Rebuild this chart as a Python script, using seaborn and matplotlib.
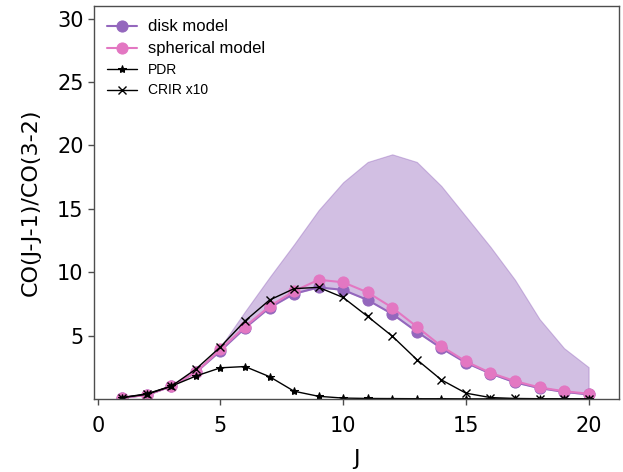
import numpy as np
import matplotlib
matplotlib.use("Agg")
import matplotlib.pyplot as plt
import seaborn as sns

J = list(range(1, 21))

disk = [0.1, 0.3, 1.0, 2.1, 3.8, 5.6, 7.2, 8.3, 8.8, 8.6,
        7.8, 6.7, 5.3, 4.0, 2.85, 2.0, 1.3, 0.85, 0.55, 0.35]
spherical = [0.1, 0.3, 1.0, 2.1, 3.9, 5.7, 7.3, 8.5, 9.4, 9.2,
             8.4, 7.2, 5.7, 4.15, 2.95, 2.05, 1.4, 0.9, 0.6, 0.4]
band_upper = [0.1, 0.35, 1.0, 2.2, 4.1, 6.9, 9.6, 12.2, 14.9, 17.1,
              18.7, 19.3, 18.7, 16.8, 14.4, 12.0, 9.4, 6.3, 4.0, 2.5]
pdr = [0.1, 0.4, 1.0, 1.8, 2.45, 2.55, 1.75, 0.6, 0.2, 0.06,
       0.03, 0.02, 0.01, 0.01, 0.0, 0.0, 0.0, 0.0, 0.0, 0.0]
crir = [0.1, 0.35, 1.0, 2.35, 4.1, 6.15, 7.8, 8.7, 8.8, 8.0,
        6.5, 4.95, 3.1, 1.5, 0.45, 0.1, 0.03, 0.01, 0.0, 0.0]

sns.set_style("ticks")
plt.rcParams['font.family'] = ['DejaVu Sans']
plt.rcParams['text.color'] = 'black'
plt.rcParams['axes.labelcolor'] = 'black'
plt.rcParams['xtick.color'] = 'black'
plt.rcParams['ytick.color'] = 'black'

fig = plt.figure(figsize=(6.23, 4.72), dpi=100)
ax = fig.add_axes([0.151, 0.155, 0.843, 0.832])

purple = '#9467bd'
pink = '#e377c2'

# shaded range of the disk model
ax.fill_between(J, disk, band_upper, color=purple, alpha=0.42, linewidth=0.8)

sns.lineplot(x=J, y=disk, ax=ax, color=purple, marker='o', markersize=8,
             markeredgecolor=purple, linewidth=1.5, label='disk model')
sns.lineplot(x=J, y=spherical, ax=ax, color=pink, marker='o', markersize=8,
             markeredgecolor=pink, linewidth=1.5, label='spherical model')
sns.lineplot(x=J, y=pdr, ax=ax, color='black', marker='*', markersize=6,
             markeredgecolor='black', linewidth=1.0, label='PDR')
sns.lineplot(x=J, y=crir, ax=ax, color='black', marker='x', markersize=6,
             markeredgecolor='black', markeredgewidth=1.0, linewidth=1.0, label='CRIR x10')

ax.set_xlim(-0.15, 21.25)
ax.set_ylim(0.0, 31.0)
ax.set_yticks([5, 10, 15, 20, 25, 30])
ax.set_xticks([0, 5, 10, 15, 20])
ax.tick_params(labelsize=15, length=4, width=1, color='0.3')
ax.tick_params(axis='x', pad=8)
ax.set_xlabel('J', fontsize=16, labelpad=10)
ax.set_ylabel('CO(J-J-1)/CO(3-2)', fontsize=16, labelpad=12)

for s in ax.spines.values():
    s.set_color('0.3')
    s.set_linewidth(1.0)

leg = ax.legend(loc='upper left', frameon=False, handlelength=2.2,
                bbox_to_anchor=(0.0, 1.0), prop={'family': 'Liberation Sans'})
for i, t in enumerate(leg.get_texts()):
    t.set_fontsize(12 if i < 2 else 10)

fig.savefig('out.png', dpi=100)
